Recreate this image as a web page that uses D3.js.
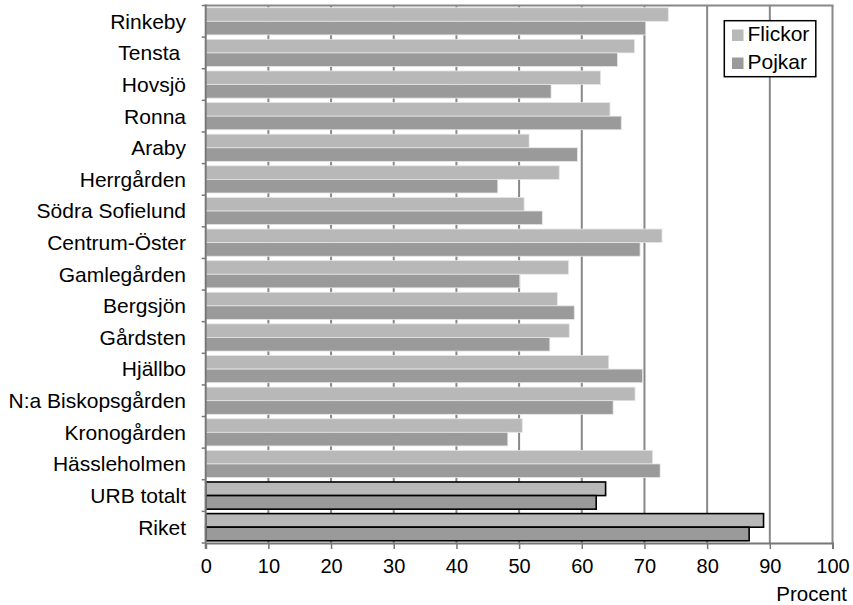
<!DOCTYPE html>
<html><head><meta charset="utf-8">
<script src="https://cdn.jsdelivr.net/npm/d3@7"></script>
<style>body{margin:0;background:#fff}svg{display:block}text{font-family:"Liberation Sans",Arial,sans-serif;fill:#000}</style>
</head><body><svg id="c" width="853" height="605"></svg>
<script>
const categories = ["Rinkeby","Tensta ","Hovsjö","Ronna","Araby","Herrgården","Södra Sofielund","Centrum-Öster","Gamlegården","Bergsjön","Gårdsten","Hjällbo","N:a Biskopsgården","Kronogården","Hässleholmen","URB totalt","Riket"];
const flickor = [73.8,68.4,63.0,64.5,51.6,56.4,50.8,72.8,57.9,56.1,58.0,64.3,68.5,50.5,71.3,63.8,89.0];
const pojkar  = [70.2,65.7,55.1,66.3,59.3,46.6,53.7,69.3,50.1,58.8,54.9,69.7,65.0,48.2,72.5,62.3,86.7];
const seriesNames = ["Flickor","Pojkar"];
const xTicks = [0,10,20,30,40,50,60,70,80,90,100];
const highlighted = ["URB totalt","Riket"];

const svg = d3.select("#c");
const L = 205.7, R = 832.5, T = 5.5, B = 543;
const x = d3.scaleLinear().domain([0,100]).range([L,R]);
const y = d3.scaleBand().domain(categories).range([T,B]).paddingInner(0.14).paddingOuter(0.07);
const sub = d3.scaleBand().domain(seriesNames).range([0,y.bandwidth()]);
const color = d3.scaleOrdinal().domain(seriesNames).range(["#b8b8b8","#9a9a9a"]);

// gridlines
svg.append("g").selectAll("line").data(xTicks.slice(1)).join("line")
  .attr("x1",d=>x(d)).attr("x2",d=>x(d)).attr("y1",T).attr("y2",B)
  .attr("stroke","#888").attr("stroke-width",2);
svg.append("line").attr("x1",L).attr("x2",R+1).attr("y1",T).attr("y2",T).attr("stroke","#888").attr("stroke-width",2);

// bars
const rows = categories.map((c,i)=>({c, vals:[{s:"Flickor",v:flickor[i]},{s:"Pojkar",v:pojkar[i]}]}));
const g = svg.append("g").selectAll("g").data(rows).join("g").attr("transform",d=>`translate(0,${y(d.c)})`);
g.selectAll("rect").data(d=>d.vals.map(v=>({...v,c:d.c}))).join("rect")
  .attr("x",x(0)).attr("y",d=>sub(d.s)).attr("width",d=>x(d.v)-x(0)).attr("height",sub.bandwidth())
  .attr("fill",d=>color(d.s))
  .attr("stroke",d=>highlighted.includes(d.c)?"#000":"#e6e6e6")
  .attr("stroke-width",d=>highlighted.includes(d.c)?1.6:0.8);

// left axis
svg.append("line").attr("x1",L).attr("x2",L).attr("y1",T-1).attr("y2",B+6).attr("stroke","#777").attr("stroke-width",2);
const bounds = categories.map(c=>y(c)-y.step()*y.paddingInner()/2).concat([B]);
svg.append("g").selectAll("line").data(bounds).join("line")
  .attr("x1",L-4).attr("x2",L).attr("y1",d=>d).attr("y2",d=>d).attr("stroke","#777").attr("stroke-width",1.5);
// bottom axis
const xAxis = d3.axisBottom(x).tickValues(xTicks).tickSize(6).tickPadding(10);
const ax = svg.append("g").attr("transform",`translate(0,${B})`).call(xAxis);
ax.select(".domain").attr("stroke","#777").attr("stroke-width",2);
ax.selectAll(".tick line").attr("stroke","#777").attr("stroke-width",1.5);
ax.selectAll(".tick text").attr("font-size",20).attr("fill","#000");

// category labels
svg.append("g").selectAll("text").data(categories).join("text")
  .attr("x",186).attr("y",d=>y(d)+y.bandwidth()/2).attr("dy","0.35em")
  .attr("text-anchor","end").attr("font-size",21).style("white-space","pre").text(d=>d);

svg.append("text").attr("x",847).attr("y",601).attr("text-anchor","end").attr("font-size",20.5).text("Procent");

// legend
const lg = svg.append("g");
lg.append("rect").attr("x",724.3).attr("y",20.7).attr("width",91.5).attr("height",56).attr("fill","#fff").attr("stroke","#000").attr("stroke-width",1.5);
seriesNames.forEach((s,i)=>{
  lg.append("rect").attr("x",732).attr("y",29.5+i*28).attr("width",11.5).attr("height",11.5).attr("fill",color(s));
  lg.append("text").attr("x",747.5).attr("y",41+i*28).attr("font-size",21).text(s);
});
</script></body></html>
